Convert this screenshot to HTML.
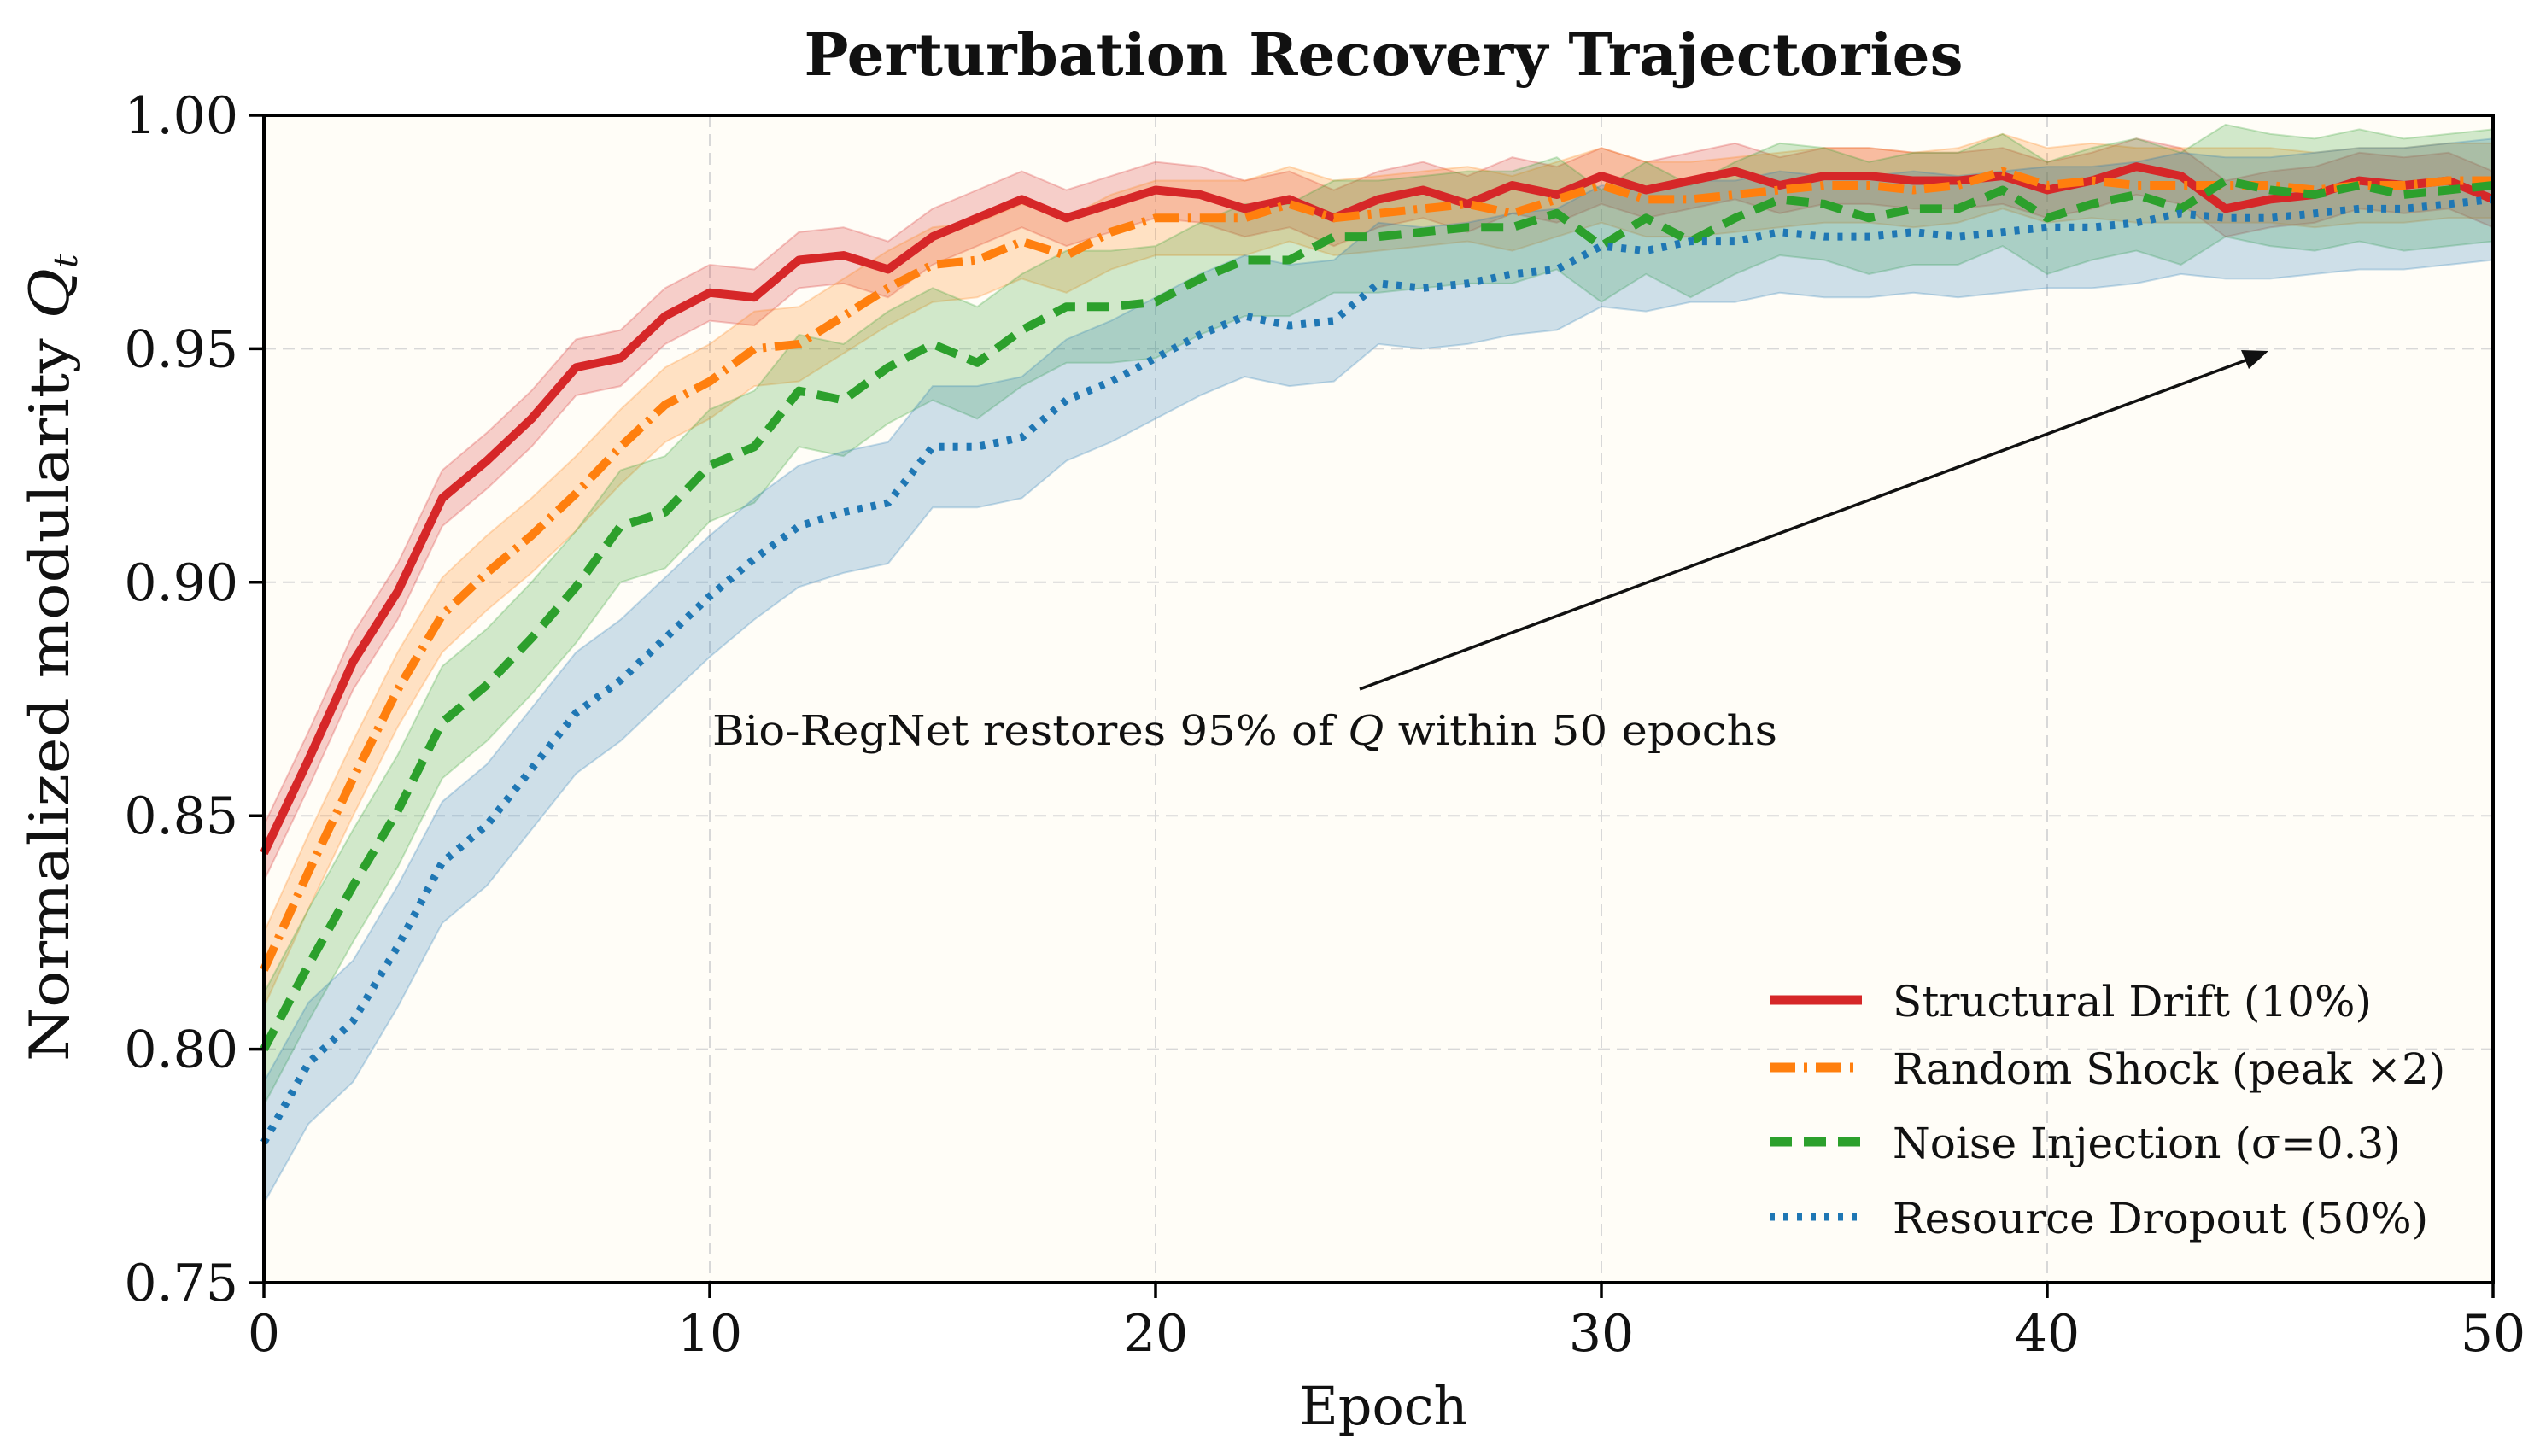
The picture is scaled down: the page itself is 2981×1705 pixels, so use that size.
<!DOCTYPE html>
<html><head><meta charset="utf-8"><style>
html,body{margin:0;padding:0;background:#fff;}
svg text{font-family:"DejaVu Serif","Liberation Serif",serif;fill:#111;}
</style></head><body>
<svg id="chart" width="2981" height="1700" viewBox="0 0 2981 1700" xmlns="http://www.w3.org/2000/svg">
<text x="1620" y="88" font-size="68" font-weight="bold" text-anchor="middle" textLength="1357" lengthAdjust="spacingAndGlyphs">Perturbation Recovery Trajectories</text>
<rect x="309" y="135" width="2610" height="1367" fill="#fffdf7"/>
<g id="grid"></g>
<g id="bands"></g>
<g id="lines"></g>
<rect x="309" y="135" width="2610" height="1367" fill="none" stroke="#000" stroke-width="4"/>
<g id="ticks"></g>
<text x="1620" y="1668" font-size="62" text-anchor="middle">Epoch</text>
<text transform="translate(80,770) rotate(-90)" font-size="64" text-anchor="middle" textLength="946" lengthAdjust="spacingAndGlyphs">Normalized modularity <tspan font-style="italic">Q</tspan><tspan font-style="italic" font-size="38" dy="10">t</tspan></text>
<line x1="1592" y1="807" x2="2640" y2="418" stroke="#111" stroke-width="3.5"/>
<polygon points="2656,411 2624,410 2633,432" fill="#111"/>
<text x="834" y="872" font-size="48" textLength="1247" lengthAdjust="spacingAndGlyphs">Bio-RegNet restores 95% of <tspan font-style="italic">Q</tspan> within 50 epochs</text>
<g id="legend"></g>
</svg>
<script>
const epochs = Array.from({length:51},(_,i)=>i);
const xTicks = [0,10,20,30,40,50];
const yTicks = [0.75,0.80,0.85,0.90,0.95,1.00];
const yTickLabels = ["0.75","0.80","0.85","0.90","0.95","1.00"];
const structuralDrift = [0.842,0.862,0.883,0.898,0.918,0.926,0.935,0.946,0.948,0.957,0.962,0.961,0.969,0.970,0.967,0.974,0.978,0.982,0.978,0.981,0.984,0.983,0.980,0.982,0.978,0.982,0.984,0.981,0.985,0.983,0.987,0.984,0.986,0.988,0.985,0.987,0.987,0.986,0.986,0.987,0.984,0.986,0.989,0.987,0.980,0.982,0.983,0.986,0.985,0.986,0.982];
const randomShock = [0.817,0.838,0.858,0.877,0.893,0.902,0.910,0.919,0.929,0.938,0.943,0.950,0.951,0.957,0.963,0.968,0.969,0.973,0.970,0.975,0.978,0.978,0.978,0.981,0.978,0.979,0.980,0.981,0.979,0.982,0.985,0.982,0.982,0.983,0.984,0.985,0.985,0.984,0.985,0.988,0.985,0.986,0.985,0.985,0.985,0.985,0.984,0.985,0.985,0.986,0.986];
const noiseInjection = [0.800,0.818,0.835,0.851,0.870,0.878,0.888,0.899,0.912,0.915,0.925,0.929,0.941,0.939,0.946,0.951,0.947,0.954,0.959,0.959,0.960,0.965,0.969,0.969,0.974,0.974,0.975,0.976,0.976,0.979,0.972,0.978,0.973,0.978,0.982,0.981,0.978,0.980,0.980,0.984,0.978,0.981,0.983,0.980,0.986,0.984,0.983,0.985,0.983,0.984,0.985];
const resourceDropout = [0.780,0.797,0.806,0.822,0.840,0.848,0.860,0.872,0.879,0.888,0.897,0.905,0.912,0.915,0.917,0.929,0.929,0.931,0.939,0.943,0.948,0.953,0.957,0.955,0.956,0.964,0.963,0.964,0.966,0.967,0.972,0.971,0.973,0.973,0.975,0.974,0.974,0.975,0.974,0.975,0.976,0.976,0.977,0.979,0.978,0.978,0.979,0.980,0.980,0.981,0.982];
const bandHalfWidths = [0.006,0.008,0.012,0.013];
const seriesLabels = ["Structural Drift (10%)","Random Shock (peak \u00d72)","Noise Injection (\u03c3=0.3)","Resource Dropout (50%)"];

const NS="http://www.w3.org/2000/svg";
const X0=309,X1=2919,Y0=1502,Y1=135;
const xs=v=>X0+(v-0)/(50-0)*(X1-X0);
const ys=v=>Y0-(v-0.75)/(1.0-0.75)*(Y0-Y1);
function mk(tag,attrs,parent){const e=document.createElementNS(NS,tag);for(const k in attrs)e.setAttribute(k,attrs[k]);parent.appendChild(e);return e;}

const grid=document.getElementById('grid'),ticks=document.getElementById('ticks');
xTicks.forEach(t=>{
  const g=mk('line',{x1:xs(t),x2:xs(t),y1:Y1,y2:Y0,stroke:'#d8d8d8','stroke-width':2,'stroke-dasharray':'14,8'},grid);
  
  
  const tk=mk('line',{x1:xs(t),x2:xs(t),y1:Y0,y2:Y0+18,stroke:'#000','stroke-width':3.5},ticks);
  
  
  const tx=mk('text',{x:xs(t),y:Y0+80,'font-size':60,'text-anchor':'middle'},ticks);
  tx.textContent=String(t);
  
  
});
yTicks.forEach((t,i)=>{
  const g=mk('line',{x1:X0,x2:X1,y1:ys(t),y2:ys(t),stroke:'#d8d8d8','stroke-width':2,'stroke-dasharray':'14,8'},grid);
  
  
  const tk=mk('line',{x1:X0-18,x2:X0,y1:ys(t),y2:ys(t),stroke:'#000','stroke-width':3.5},ticks);
  
  
  const tx=mk('text',{x:X0-30,y:ys(t)+21,'font-size':60,'text-anchor':'end'},ticks);
  tx.textContent=yTickLabels[i];
  
  
});

const series=[structuralDrift,randomShock,noiseInjection,resourceDropout];
const colors=['#d62728','#ff7f0e','#2ca02c','#1f77b4'];
const dashes=['none','30,10,4,10','26,14','6,10'];
const names=['structural-drift','random-shock','noise-injection','resource-dropout'];
const bands=document.getElementById('bands'),lines=document.getElementById('lines');
series.forEach((s,k)=>{
  const w=bandHalfWidths[k];
  let d='M'+epochs.map(i=>xs(i)+','+ys(Math.min(s[i]+w,1.0))).join(' L');
  d+=' L'+epochs.slice().reverse().map(i=>xs(i)+','+ys(s[i]-w)).join(' L')+' Z';
  const b=mk('path',{d:d,fill:colors[k],'fill-opacity':0.22,stroke:colors[k],'stroke-opacity':0.25,'stroke-width':2},bands);
  
  
});
series.forEach((s,k)=>{
  const d='M'+epochs.map(i=>xs(i)+','+ys(s[i])).join(' L');
  const l=mk('path',{d:d,fill:'none',stroke:colors[k],'stroke-width':k==3?9:10,'stroke-dasharray':dashes[k],'stroke-linejoin':'round'},lines);
  
  
});

const leg=document.getElementById('legend');
const rowY=[1171,1250,1337,1425];
seriesLabels.forEach((lab,k)=>{
  const g=mk('g',{},leg);
  
  
  mk('line',{x1:2072,x2:2180,y1:rowY[k],y2:rowY[k],stroke:colors[k],'stroke-width':k==3?9:11,'stroke-dasharray':dashes[k]},g);
  const t=mk('text',{x:2216,y:rowY[k]+19,'font-size':50},g);
  t.textContent=lab;
});
</script>
</body></html>
